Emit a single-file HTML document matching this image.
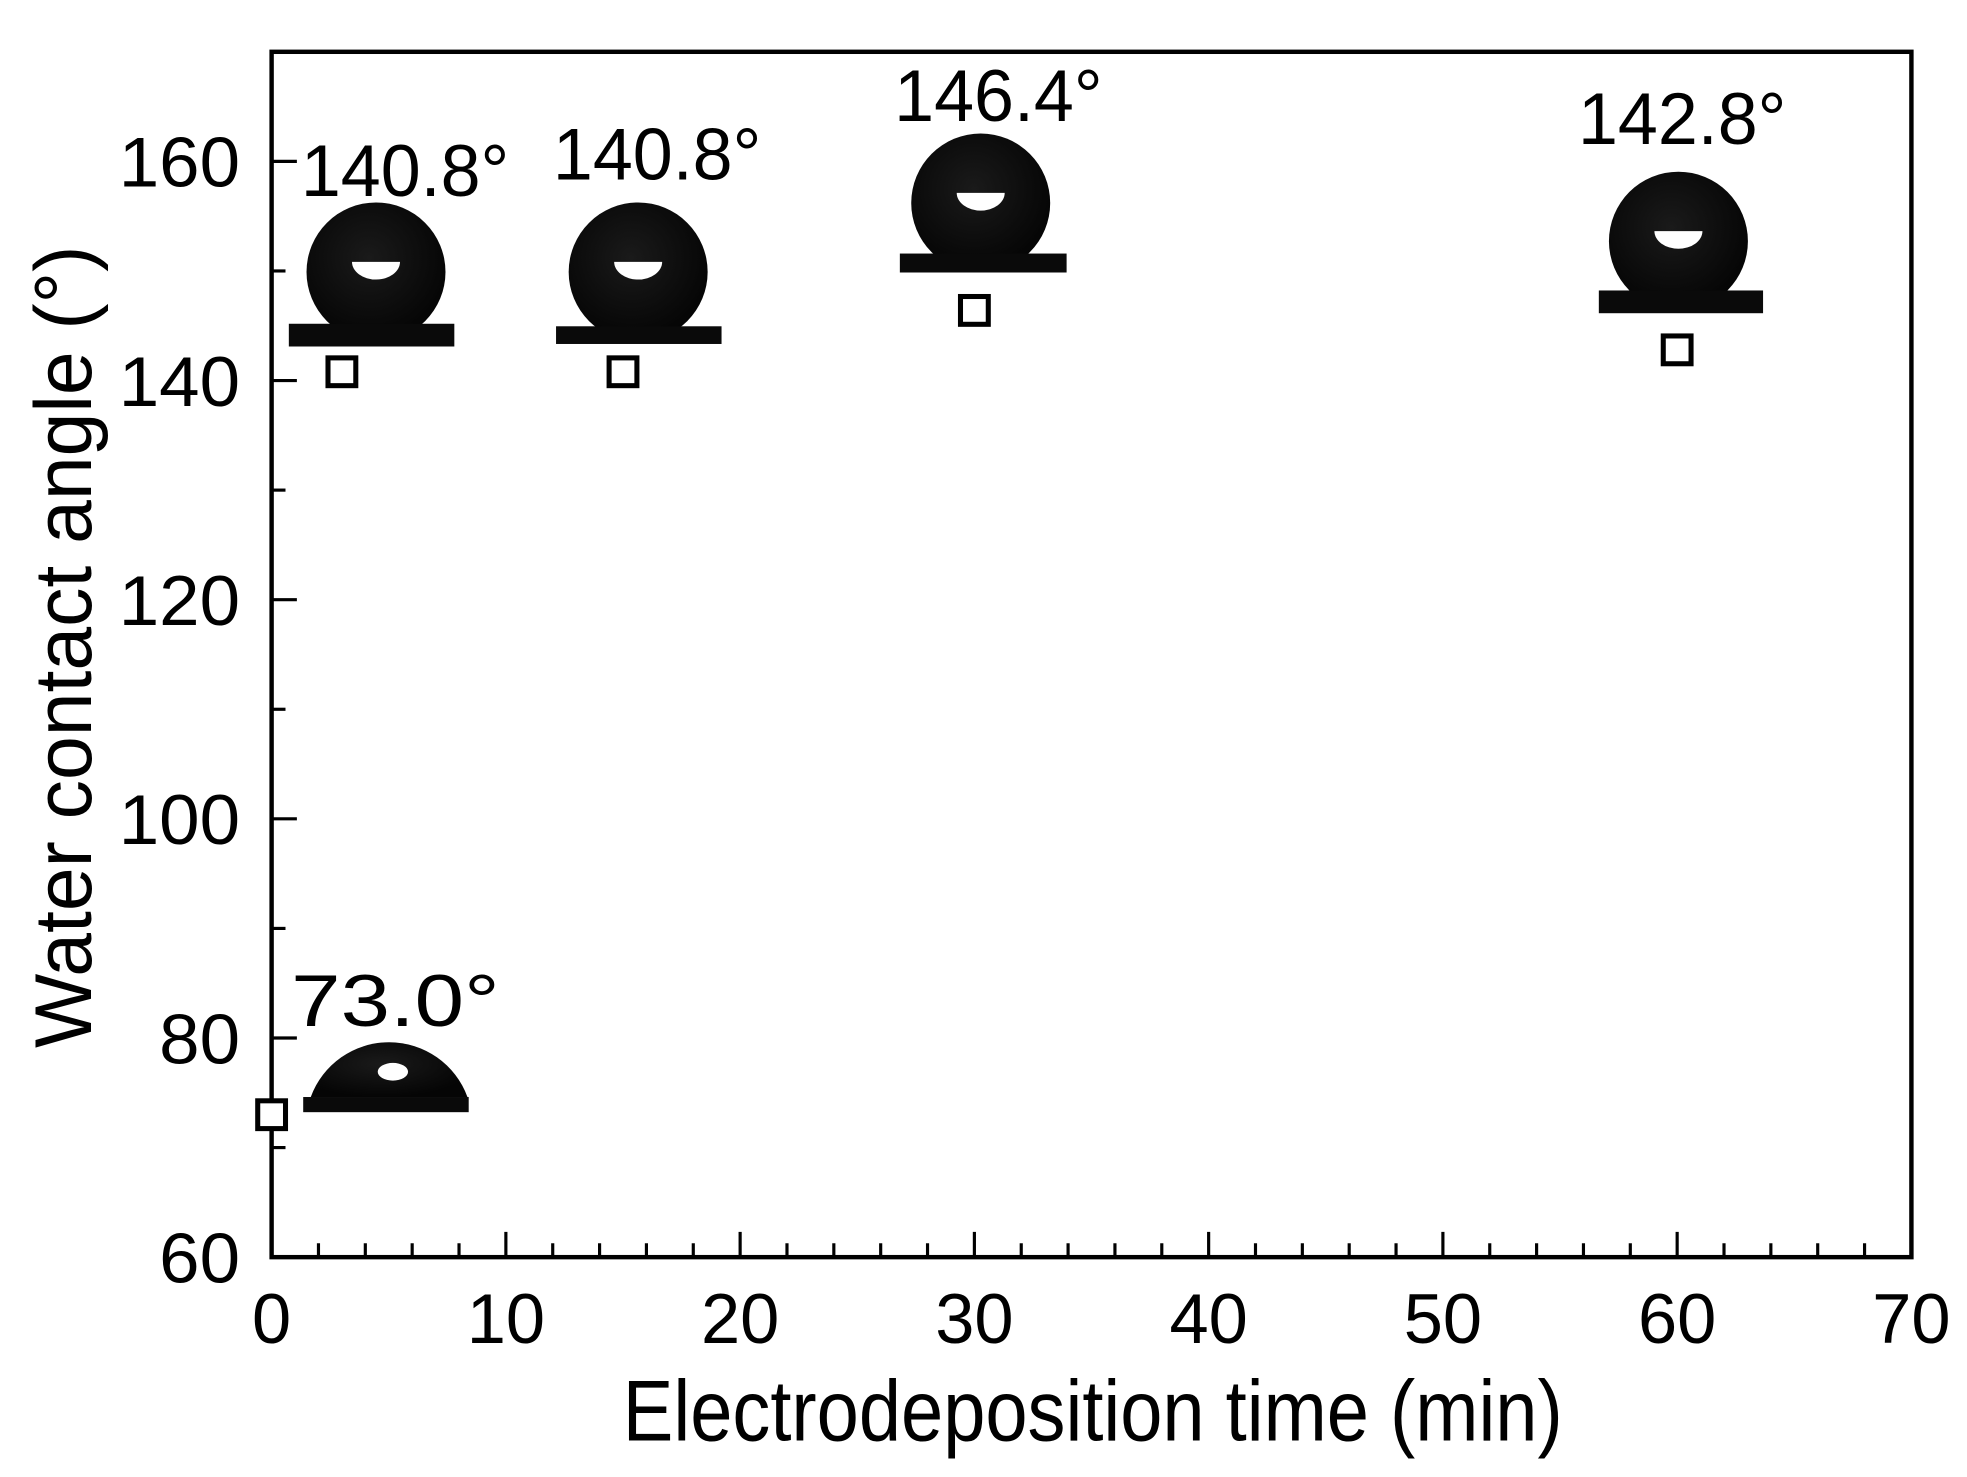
<!DOCTYPE html>
<html><head><meta charset="utf-8"><style>
html,body{margin:0;padding:0;background:#fff;}
svg{display:block;}
text{font-family:"Liberation Sans",Arial,sans-serif;fill:#000;}
</style></head><body>
<svg id="chart" xmlns="http://www.w3.org/2000/svg" width="1967" height="1477" viewBox="0 0 1557 1169" preserveAspectRatio="none">
<defs>
<radialGradient id="dropg" cx="0.45" cy="0.4" r="0.6">
<stop offset="0" stop-color="#1a1a1a"/><stop offset="1" stop-color="#050505"/>
</radialGradient>
</defs>
<rect x="215" y="41" width="1298" height="954" fill="#fff" stroke="#000" stroke-width="3.5"/>
<g id="xticks"></g>
<g id="yticks"></g>
<text x="865" y="1140" font-size="68" text-anchor="middle" textLength="744" lengthAdjust="spacingAndGlyphs">Electrodeposition time (min)</text>
<text transform="translate(72,512) rotate(-90)" font-size="64" text-anchor="middle" textLength="635" lengthAdjust="spacingAndGlyphs">Water contact angle (°)</text>
<g id="annots"></g>
<g id="points"></g>
</svg>
<script>
const times = [0, 3, 15, 30, 60];
const angles = [73.0, 140.8, 140.8, 146.4, 142.8];
const angleLabels = ["73.0°", "140.8°", "140.8°", "146.4°", "142.8°"];
const xTickLabels = ["0","10","20","30","40","50","60","70"];
const yTickLabels = ["60","80","100","120","140","160"];

const NS = "http://www.w3.org/2000/svg";
function X(v){return 215 + v*(1298/70);}
function Y(v){return 995 - (v-60)*(954/110);}
function mk(tag, attrs, parent){
  const e = document.createElementNS(NS, tag);
  for (const k in attrs) e.setAttribute(k, attrs[k]);
  parent.appendChild(e); return e;
}
const xg = document.getElementById('xticks');
for (let v=0; v<=70; v+=2){
  const major = v%10===0;
  const t = mk('line',{x1:X(v),x2:X(v),y1:995,y2:995-(major?20:11),stroke:'#000','stroke-width':2.5},xg);
  
  
}
xTickLabels.forEach(l=>{
  const tx = mk('text',{x:X(+l),y:1063,'font-size':56,'text-anchor':'middle',textLength:l.length*31,lengthAdjust:'spacingAndGlyphs'},xg);
  tx.textContent = l;
  
  
});
const yg = document.getElementById('yticks');
for (let v=60; v<=170; v+=10){
  const major = v%20===0;
  const t = mk('line',{x1:215,x2:215+(major?20:11),y1:Y(v),y2:Y(v),stroke:'#000','stroke-width':2.5},yg);
  
  
}
yTickLabels.forEach(l=>{
  const tx = mk('text',{x:190,y:Y(+l)+20,'font-size':56,'text-anchor':'end',textLength:l.length*32,lengthAdjust:'spacingAndGlyphs'},yg);
  tx.textContent = l;
  
  
});
// inset layout offsets relative to each point (pixels, not data)
const insetLayout = [
  {bx:25,bw:131,by:-14,bh:12,cap:true,cx:93,cy:-14,r:63,tx:98,ty:-70},
  {bx:-42,bw:131,by:-38,bh:18,cx:27,cy:-79,r:55,tx:50,ty:-139},
  {bx:-53,bw:131,by:-36,bh:14,cx:12,cy:-79,r:55,tx:27,ty:-152},
  {bx:-59,bw:132,by:-45,bh:15,cx:5,cy:-85,r:55,tx:19,ty:-150},
  {bx:-62,bw:130,by:-47,bh:18,cx:1,cy:-86,r:55,tx:4,ty:-163}
];
const ag = document.getElementById('annots');
const pg = document.getElementById('points');
times.forEach((t,i)=>{
  const px = X(t), py = Y(angles[i]), L = insetLayout[i];
  const g = mk('g',{},ag);
  
  
  if (L.cap){
    const cx = px+L.cx, base = py+L.cy;
    mk('path',{d:`M${cx-62},${base} A66,66 0 0 1 ${cx+62},${base} Z`,fill:'url(#dropg)'},g);
    mk('ellipse',{cx:cx+3,cy:base-20,rx:12,ry:7,fill:'#fff'},g);
  } else {
    mk('circle',{cx:px+L.cx,cy:py+L.cy,r:L.r,fill:'url(#dropg)'},g);
    mk('path',{d:`M${px+L.cx-19},${py+L.cy-8} A19,14 0 0 0 ${px+L.cx+19},${py+L.cy-8} Z`,fill:'#fff'},g);
  }
  mk('rect',{x:px+L.bx,y:py+L.by,width:L.bw,height:L.bh,fill:'#0a0a0a'},g);
  const tx = mk('text',{x:px+L.tx,y:py+L.ty,'font-size':58,'text-anchor':'middle',textLength:165,lengthAdjust:'spacingAndGlyphs'},g);
  tx.textContent = angleLabels[i];
  
  
  const s = mk('rect',{x:px-11,y:py-11,width:22,height:22,fill:'#fff',stroke:'#000','stroke-width':4},pg);
  
  
});
</script>
</body></html>
